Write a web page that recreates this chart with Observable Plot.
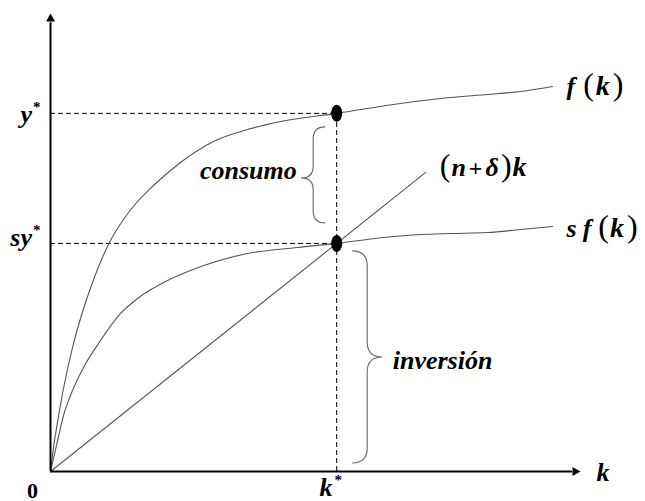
<!DOCTYPE html>
<html>
<head>
<meta charset="utf-8">
<script src="https://cdn.jsdelivr.net/npm/d3@7"></script>
<script src="https://cdn.jsdelivr.net/npm/@observablehq/plot@0.6"></script>
<style>
  html, body { margin: 0; padding: 0; background: #fff; }
</style>
</head>
<body>
<div id="chart"></div>
<script>
// Steady state of the Solow model
const kStar = 5.4;     // steady-state capital per worker
const yStar = 7.82;    // output per worker at k*
const syStar = 4.98;   // saving (investment) per worker at k*

// production function f(k)
const fK = [0, 0.057, 0.151, 0.245, 0.415, 0.566, 0.792, 1.132, 1.377, 1.642, 1.943, 2.453, 3.075, 3.717, 4.34, 5.4, 6.604, 7.547, 8.245, 8.868, 9.472];
const fY = [0, 0.524, 1.201, 1.812, 2.707, 3.341, 4.127, 5.044, 5.502, 5.895, 6.245, 6.747, 7.205, 7.467, 7.642, 7.82, 8.035, 8.166, 8.231, 8.297, 8.406];

// saving curve s f(k)
const sfK = [0, 0.151, 0.245, 0.377, 0.623, 0.943, 1.321, 1.642, 2.208, 2.642, 3.717, 4.66, 5.4, 6.283, 6.981, 7.547, 8.245, 8.868, 9.472];
const sfY = [0, 0.764, 1.223, 1.659, 2.271, 2.86, 3.45, 3.777, 4.17, 4.389, 4.76, 4.891, 4.98, 5.109, 5.175, 5.197, 5.218, 5.284, 5.349];

// break-even investment line (n + δ)k
const lineK = [0, 7.08];
const lineY = [0, 6.53];

// axis labels
const yTickText = ["y*", "sy*"];
const xTickText = ["0", "k*"];
const xAxisTitle = "k";
const curveNames = ["f(k)", "s f(k)", "(n+δ)k"];
const braceNames = ["consumo", "inversión"];

const zip = (xs, ys) => xs.map((x, i) => ({x, y: ys[i]}));
const fData = zip(fK, fY);
const sfData = zip(sfK, sfY);
const lineData = zip(lineK, lineY);

// filled arrowhead whose tip sits on the anchor point (points up before rotation)
const arrowHead = {
  draw(ctx) {
    ctx.moveTo(0, 0);
    ctx.lineTo(-4.5, 8);
    ctx.lineTo(4.5, 8);
    ctx.closePath();
  }
};

// upright ellipse for the steady-state points
const ellipse = {
  draw(ctx) {
    const rx = 5.5, ry = 8.5, c = 0.5523;
    ctx.moveTo(0, -ry);
    ctx.bezierCurveTo(c * rx, -ry, rx, -c * ry, rx, 0);
    ctx.bezierCurveTo(rx, c * ry, c * rx, ry, 0, ry);
    ctx.bezierCurveTo(-c * rx, ry, -rx, c * ry, -rx, 0);
    ctx.bezierCurveTo(-rx, -c * ry, -c * rx, -ry, 0, -ry);
    ctx.closePath();
  }
};

// curly brace: ends at x0, spine at xs, tip at xt (all pixels)
function bracePath(x0, xs, xt, y1, ym, y2, r) {
  const p = d3.path();
  p.moveTo(x0, y1);
  p.quadraticCurveTo(xs, y1, xs, y1 + r);
  p.lineTo(xs, ym - r);
  p.quadraticCurveTo(xs, ym, xt, ym);
  p.quadraticCurveTo(xs, ym, xs, ym + r);
  p.lineTo(xs, y2 - r);
  p.quadraticCurveTo(xs, y2, x0, y2);
  return p.toString();
}

function braces(index, {x, y}) {
  const g = d3.create("svg:g")
    .attr("fill", "none")
    .attr("stroke", "#666")
    .attr("stroke-width", 1.1);
  const xk = x(kStar);
  // consumo: between y* and sy*, left of k*
  const c1 = y(yStar) + 14, c2 = y(syStar) - 20, cm = y((yStar + syStar) / 2);
  g.append("path").attr("d", bracePath(xk - 11, xk - 23, xk - 35, c1, cm, c2, 12));
  // inversión: between 0 and sy*, right of k*
  const i1 = y(syStar) + 8, i2 = y(0) - 8, im = y(syStar / 2);
  g.append("path").attr("d", bracePath(xk + 16, xk + 31, xk + 46, i1, im, i2, 15));
  return g.node();
}

const serif = "Liberation Serif";
const bi = {fontFamily: serif, fontSize: 26, fontStyle: "italic", fontWeight: "bold", fill: "#000"};
const dash = {stroke: "#000", strokeWidth: 1, strokeDasharray: "5,3"};

const chart = Plot.plot({
  width: 645,
  height: 501,
  marginLeft: 50,
  marginRight: 65,
  marginTop: 13,
  marginBottom: 30,
  x: {domain: [0, 10], axis: null},
  y: {domain: [0, 10], axis: null},
  style: {background: "#fff", overflow: "visible"},
  marks: [
    // guide lines to the steady state
    Plot.ruleY([yStar], {x1: 0, x2: kStar, ...dash}),
    Plot.ruleY([syStar], {x1: 0, x2: kStar, ...dash}),
    Plot.ruleX([kStar], {y1: 0, y2: yStar, ...dash}),
    // curves
    Plot.line(fData, {x: "x", y: "y", curve: "monotone-x", stroke: "#555", strokeWidth: 1.1}),
    Plot.line(sfData, {x: "x", y: "y", curve: "monotone-x", stroke: "#555", strokeWidth: 1.1}),
    Plot.line(lineData, {x: "x", y: "y", stroke: "#555", strokeWidth: 1.1}),
    // axes
    Plot.ruleX([0], {y1: 0, y2: 9.8, stroke: "#000", strokeWidth: 2}),
    Plot.ruleY([0], {x1: 0, x2: 9.85, stroke: "#000", strokeWidth: 2}),
    Plot.dot([{x: 0, y: 10}], {x: "x", y: "y", symbol: arrowHead, fill: "#000", stroke: null}),
    Plot.dot([{x: 10, y: 0}], {x: "x", y: "y", symbol: arrowHead, rotate: 90, fill: "#000", stroke: null}),
    // steady-state points
    Plot.dot([{x: kStar, y: yStar}, {x: kStar, y: syStar}], {x: "x", y: "y", symbol: ellipse, fill: "#000", stroke: null}),
    // braces
    braces,
    // y labels
    Plot.text([yStar], {x: 0, y: d => d, text: () => yTickText[0], textAnchor: "end", dx: -10, dy: 1, ...bi}),
    Plot.text([syStar], {x: 0, y: d => d, text: () => yTickText[1], textAnchor: "end", dx: -10, dy: -6, ...bi}),
    // x labels
    Plot.text([0], {x: d => d, y: 0, text: () => xTickText[0], textAnchor: "middle", dx: -18, dy: 19,
      fontFamily: serif, fontSize: 22, fontWeight: "bold", fill: "#000"}),
    Plot.text([kStar], {x: d => d, y: 0, text: () => xTickText[1], textAnchor: "middle", dx: -6, dy: 16, ...bi}),
    Plot.text([10], {x: d => d, y: 0, text: () => xAxisTitle, textAnchor: "start", dx: 16, dy: 1, ...bi}),
    // curve labels at the end of each curve
    Plot.text([fData[fData.length - 1]], {x: "x", y: "y", text: () => curveNames[0], textAnchor: "start", dx: 14, dy: 0, ...bi}),
    Plot.text([sfData[sfData.length - 1]], {x: "x", y: "y", text: () => curveNames[1], textAnchor: "start", dx: 14, dy: 2, ...bi}),
    Plot.text([lineData[lineData.length - 1]], {x: "x", y: "y", text: () => curveNames[2], textAnchor: "start", dx: 14, dy: -5, ...bi}),
    // brace labels
    Plot.text([(yStar + syStar) / 2], {x: kStar, y: d => d, text: () => braceNames[0], textAnchor: "end", dx: -40, dy: -8, letterSpacing: 1, ...bi}),
    Plot.text([syStar / 2], {x: kStar, y: d => d, text: () => braceNames[1], textAnchor: "start", dx: 56, dy: 3, letterSpacing: 1, ...bi})
  ]
});

// typeset the math labels: upright parentheses, italic variables, starred superscripts
const STY = {
  v: {"font-style": "italic", "font-weight": "bold"},
  k: {"font-style": "italic", "font-weight": "bold", "font-size": 28},
  p: {"font-style": "normal", "font-weight": "normal", "font-size": 32},
  o: {"font-style": "normal", "font-weight": "bold", "font-size": 24},
  s: {"font-style": "normal", "font-weight": "bold", "font-size": 15, "dy": -11}
};
const SEG = {
  "y*": [["y", "v"], ["*", "s", 1]],
  "sy*": [["sy", "v"], ["*", "s", 1]],
  "k*": [["k", "v"], ["*", "s", 2]],
  "f(k)": [["f", "v"], ["(", "p", 8], ["k", "k", 2], [")", "p", 3]],
  "s f(k)": [["s", "v"], ["f", "v", 6], ["(", "p", 7], ["k", "k", 1], [")", "p", 3]],
  "(n+δ)k": [["(", "p"], ["n", "v", 1], ["+", "o", 3], ["δ", "v", 3], [")", "p", 2], ["k", "k", 1]]
};
chart.querySelectorAll("text").forEach(t => {
  const segs = SEG[t.textContent];
  if (!segs) return;
  t.textContent = "";
  for (const [s, k, dx] of segs) {
    const ts = document.createElementNS("http://www.w3.org/2000/svg", "tspan");
    ts.textContent = s;
    for (const [a, v] of Object.entries(STY[k])) ts.setAttribute(a, v);
    if (dx) ts.setAttribute("dx", dx);
    t.appendChild(ts);
  }
});

document.getElementById("chart").append(chart);
</script>
</body>
</html>
